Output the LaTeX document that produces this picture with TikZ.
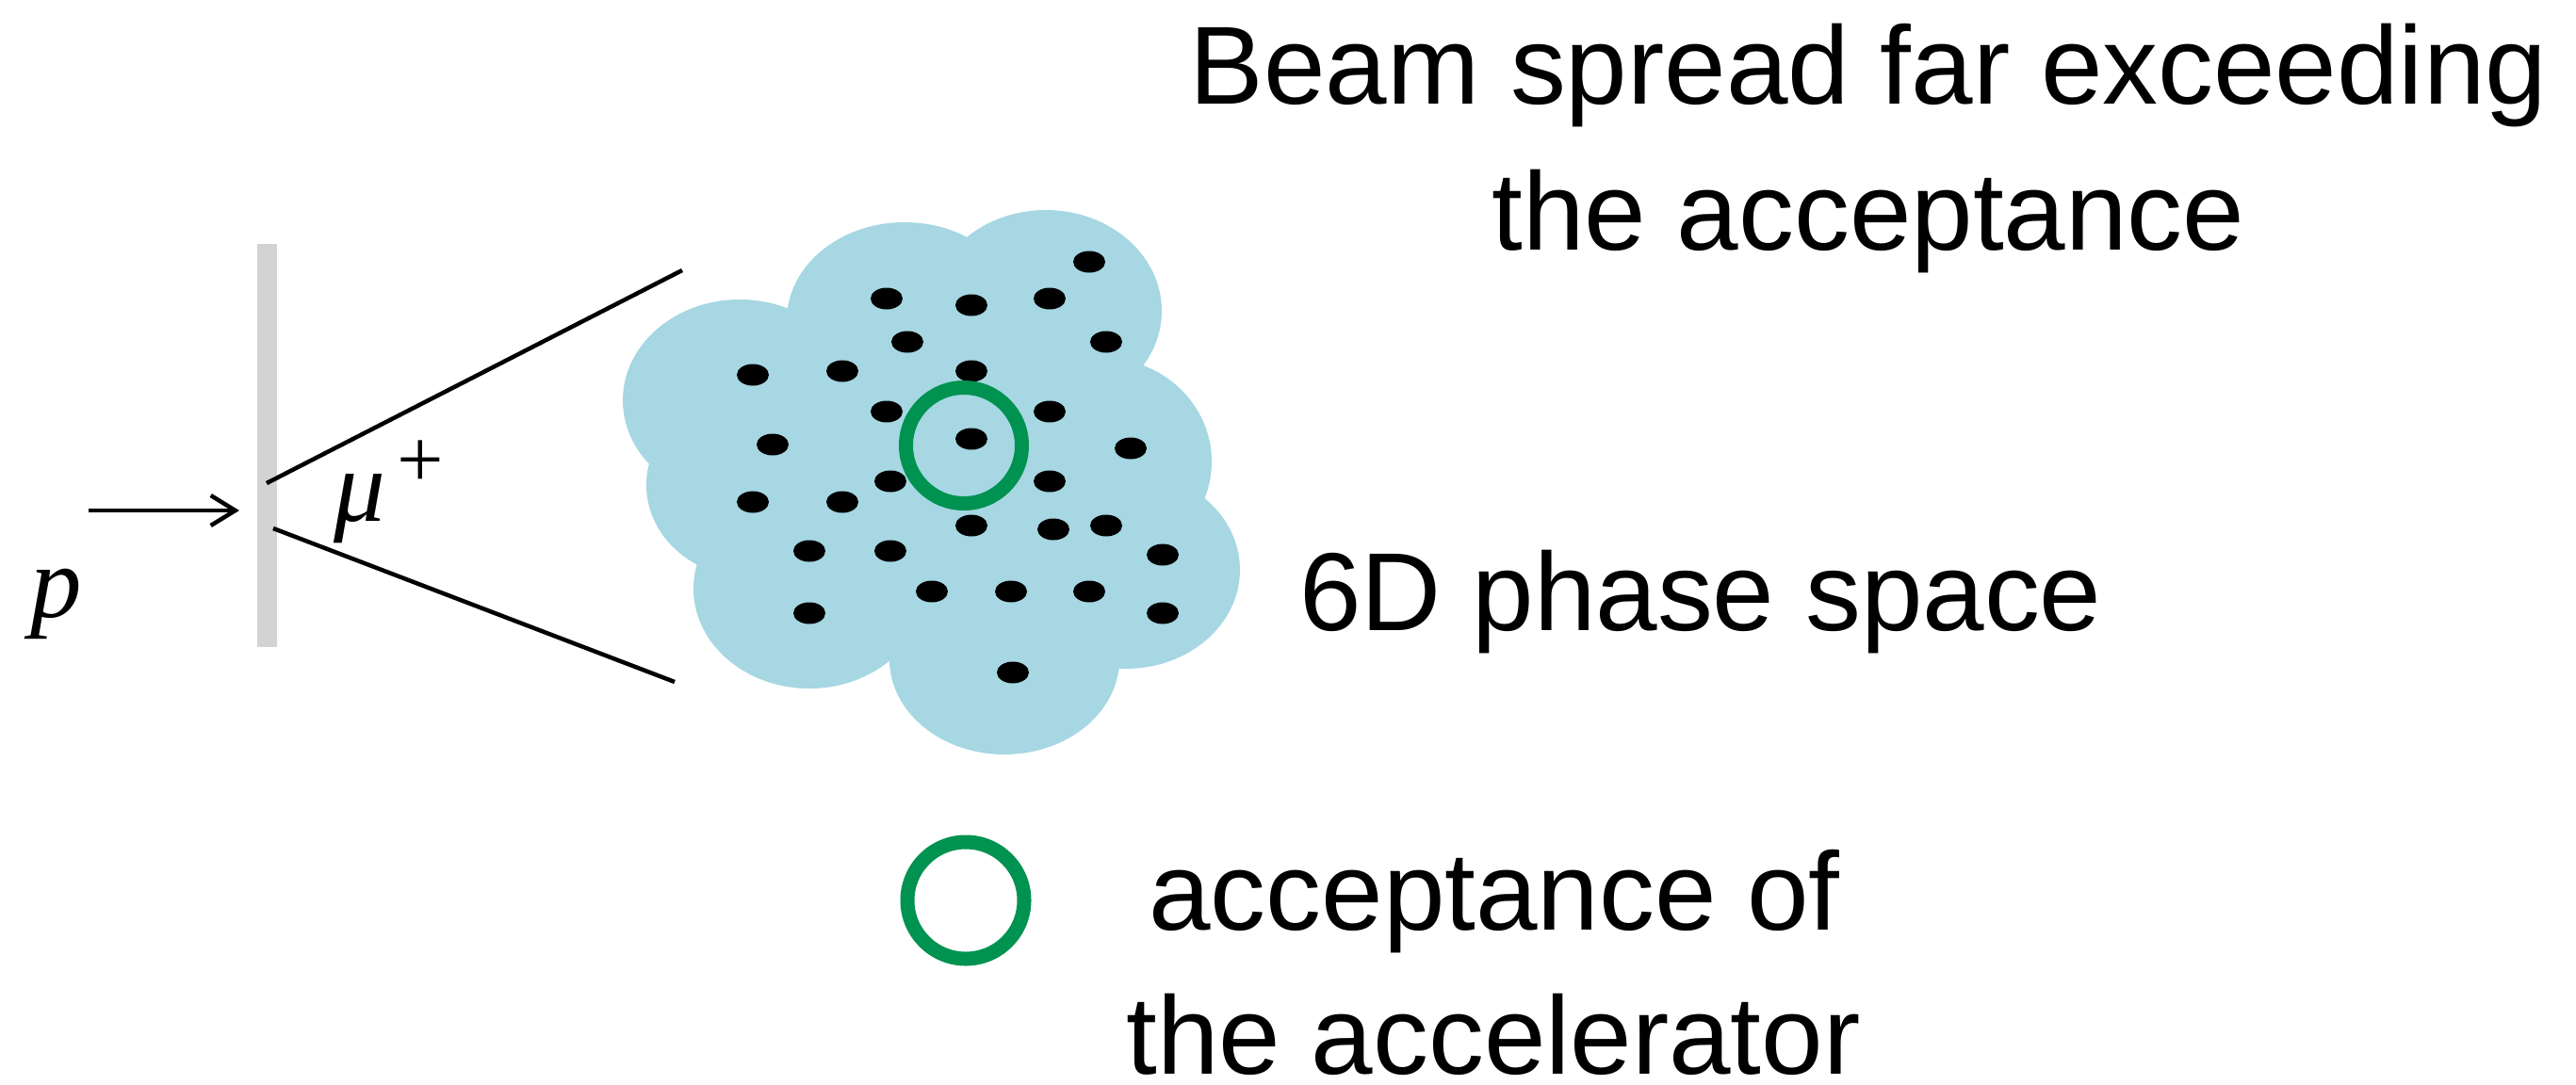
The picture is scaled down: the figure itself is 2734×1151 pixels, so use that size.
\documentclass[tikz,border=0pt]{standalone}
\usepackage{fontspec}
\setmainfont{Liberation Sans}
\newfontfamily\serifit{Liberation Serif}
\usetikzlibrary{arrows.meta}
\definecolor{cloudblue}{RGB}{166,215,227}
\definecolor{accgreen}{RGB}{0,146,80}
\definecolor{bargray}{RGB}{211,211,211}
\begin{document}
\begin{tikzpicture}[x=0.01cm,y=-0.01cm,
  lbl/.style={font=\fontsize{33.5}{40}\selectfont,inner sep=0pt,anchor=base},
  mathlbl/.style={font=\fontsize{31}{36}\selectfont\serifit\itshape,inner sep=0pt,anchor=base},
  dot/.style={fill=black},
  accring/.style={draw=accgreen,line width=1.5mm},
  thin line/.style={line width=0.45mm}]
\useasboundingbox (0,0) rectangle (2734,1151);
% target bar
\fill[bargray] (273,259) rectangle (294,687);
% incoming proton
\coordinate (pstart) at (94,542);
\coordinate (pend) at (254,542);
\draw[thin line,-{Straight Barb[length=2.6mm,width=3.2mm]}] (pstart) -- (pend);
\node[mathlbl] (p) at (60,655) {p};
% muon cone
\coordinate (u0) at (283,513);
\coordinate (u1) at (724,287);
\coordinate (l0) at (290,561);
\coordinate (l1) at (716,724);
\draw[thin line] (u0) -- (u1);
\draw[thin line] (l0) -- (l1);
\node[mathlbl,anchor=base west] (mu) at (354,553)
  {μ\hspace{1.2mm}\raisebox{10pt}{\upshape\fontsize{25}{30}\selectfont +}};
% cloud (6D phase space)
\fill[cloudblue]
  (785,425) ellipse [x radius=124,y radius=107]
  (960,340) ellipse [x radius=125,y radius=104]
  (1110,330) ellipse [x radius=123,y radius=107]
  (1170,490) ellipse [x radius=116,y radius=110]
  (1195,605) ellipse [x radius=121,y radius=105]
  (1066,700) ellipse [x radius=122,y radius=101]
  (859,625) ellipse [x radius=123,y radius=106]
  (795,515) ellipse [x radius=109,y radius=98]
  (1000,500) ellipse [x radius=230,y radius=200];
% particles
\foreach \px/\py in {1156/278, 941/317, 1031/324, 1114/317, 963/363, 1174/363,
  799/398, 894/394, 1031/394, 941/437, 1114/437, 820/472, 1031/466, 1200/476,
  945/511, 1114/511, 799/533, 894/533, 1031/558, 1118/562, 1174/558,
  859/585, 945/585, 1234/589, 989/628, 1073/628, 1156/628, 859/651, 1234/651, 1075/714}
  \fill[dot] (\px,\py) ellipse [x radius=17,y radius=11.5];
% acceptance ring
\draw[accring] (1023,473) circle [radius=61.5];
% labels
\node[lbl] (title1) at (1983,110) {Beam spread far exceeding};
\node[lbl] (title2) at (1983,265) {the acceptance};
\node[lbl] (phase) at (1805,669) {6D phase space};
% legend
\draw[accring] (1025,956) circle [radius=62] node (legring) {};
\node[lbl] (leg1) at (1586,987) {acceptance of};
\node[lbl] (leg2) at (1585,1140) {the accelerator};
\end{tikzpicture}
\end{document}
